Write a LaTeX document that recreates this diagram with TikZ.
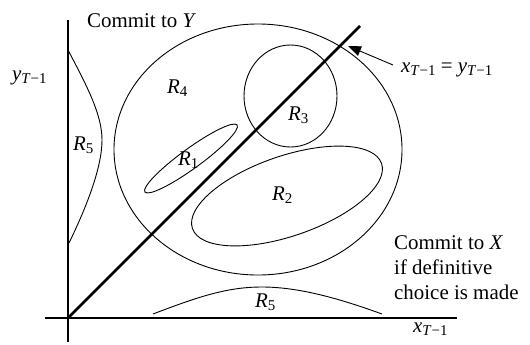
\documentclass[tikz,border=0pt]{standalone}
\usepackage{fontspec}
\setmainfont{Liberation Serif}
\usetikzlibrary{arrows.meta}
\newcommand{\lsub}[2]{#1\raisebox{-0.32ex}{\fontsize{15}{15}\selectfont #2}}
\newcommand{\Tm}{\textit{T}−1}
\tikzset{
  axisline/.style={line width=2.6bp},
  curveline/.style={line width=0.9bp},
  lbl/.style={anchor=base west, inner sep=0pt, font=\fontsize{21}{25}\selectfont},
}
\begin{document}
\begin{tikzpicture}[x=1bp,y=-1bp]
\useasboundingbox (0,0) rectangle (530,344);
% axes
\coordinate (O) at (68,318);
\coordinate (ytop) at (68,20);
\coordinate (ybot) at (68,342);
\coordinate (xleft) at (45,318);
\coordinate (xright) at (457,318);
\coordinate (dtop) at (360,26);
\draw[axisline] (ybot) -- (ytop);
\draw[axisline] (xleft) -- (xright);
\draw[axisline] (O) -- (dtop);
% regions
\draw[curveline] (258,149.5) ellipse [x radius=144, y radius=125.5];
\draw[curveline] (290.5,96) ellipse [x radius=46.5, y radius=51];
\draw[curveline, rotate around={36:(191,158.5)}] (191,158.5) ellipse [x radius=57, y radius=10];
\draw[curveline, rotate around={19:(287,196)}] (287,196) ellipse [x radius=100, y radius=40];
\draw[curveline] (68,50) .. controls (88,88) and (102,115) .. (102,140) .. controls (102,168) and (86,208) .. (69,243);
\draw[curveline] (153,314) .. controls (200,296) and (228,287) .. (262,287) .. controls (298,287) and (338,298) .. (382,314);
% labels
\node[lbl] (cy) at (87,27) {Commit to \textit{Y}};
\node[lbl] (ylab) at (12,80) {\lsub{\textit{y}}{\Tm}};
\node[lbl] (r4) at (167,93) {\lsub{\textit{R}}{4}};
\node[lbl] (r5a) at (73,150) {\lsub{\textit{R}}{5}};
\node[lbl] (r1) at (178,165) {\lsub{\textit{R}}{1}};
\node[lbl] (r3) at (288,120) {\lsub{\textit{R}}{3}};
\node[lbl] (r2) at (272,200) {\lsub{\textit{R}}{2}};
\node[lbl] (r5b) at (255,307) {\lsub{\textit{R}}{5}};
\node[lbl] (xlab) at (413,332) {\lsub{\textit{x}}{\Tm}};
\node[lbl] (eq) at (401,72) {\lsub{\textit{x}}{\Tm} = \lsub{\textit{y}}{\Tm}};
\node[lbl] (cx1) at (394,249) {Commit to \textit{X}};
\node[lbl] (cx2) at (394,274) {if definitive};
\node[lbl] (cx3) at (394,299) {choice is made};
% arrow
\coordinate (atip) at (348,46);
\coordinate (atail) at (393,65);
\draw[curveline, -{Triangle[length=13bp,width=10bp]}] (atail) -- (atip);
\end{tikzpicture}
\end{document}
